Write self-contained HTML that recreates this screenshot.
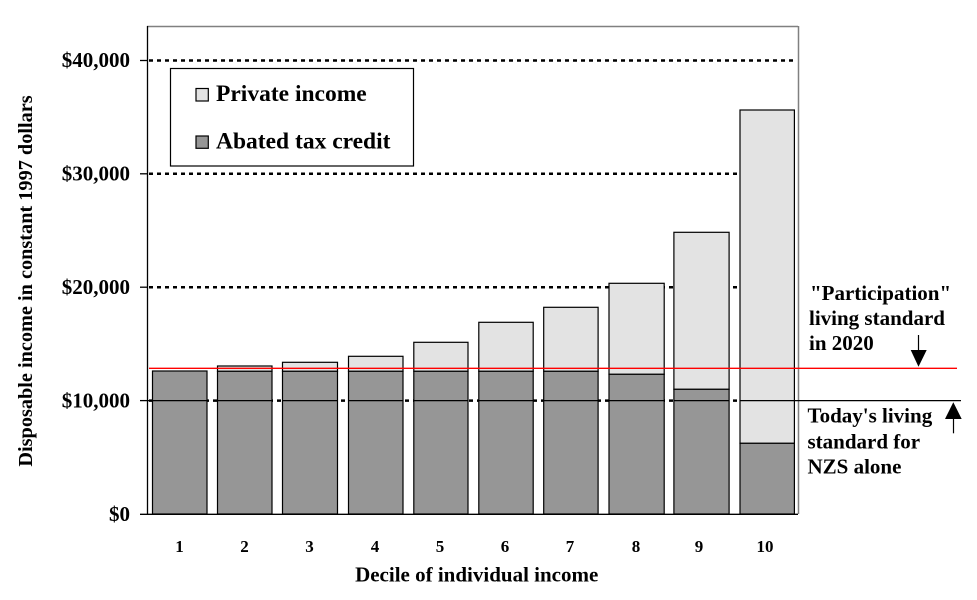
<!DOCTYPE html>
<html>
<head>
<meta charset="utf-8">
<style>
html,body{margin:0;padding:0;background:#fff;}
svg{display:block;}
text{font-family:"Liberation Serif","Times New Roman",serif;font-weight:bold;fill:#000;}
</style>
</head>
<body>
<svg width="977" height="600" viewBox="0 0 977 600" xmlns="http://www.w3.org/2000/svg">
  <rect x="0" y="0" width="977" height="600" fill="#fff"/>

  <!-- plot frame (gray top/right) -->
  <line x1="147" y1="26.5" x2="798" y2="26.5" stroke="#808080" stroke-width="1.5"/>
  <line x1="798.5" y1="26" x2="798.5" y2="514" stroke="#808080" stroke-width="1.5"/>

  <!-- dotted gridlines -->
  <g stroke="#000" stroke-width="2.5" stroke-dasharray="4 4">
    <line x1="149" y1="60.5" x2="797" y2="60.5"/>
    <line x1="149" y1="173.8" x2="797" y2="173.8"/>
    <line x1="149" y1="287.2" x2="797" y2="287.2"/>
    <line x1="149" y1="400.6" x2="797" y2="400.6"/>
  </g>

  <!-- bars -->
  <g stroke="#000" stroke-width="1.2">
    <!-- bar 1 -->
    <rect x="152.5" y="371" width="54.5" height="143" fill="#969696"/>
    <!-- bar 2 -->
    <rect x="217.5" y="366" width="54.5" height="5.3" fill="#e3e3e3"/>
    <rect x="217.5" y="371.3" width="54.5" height="142.7" fill="#969696"/>
    <!-- bar 3 -->
    <rect x="282.5" y="362.3" width="55" height="9" fill="#e3e3e3"/>
    <rect x="282.5" y="371.3" width="55" height="142.7" fill="#969696"/>
    <!-- bar 4 -->
    <rect x="348.5" y="356.3" width="54.5" height="15" fill="#e3e3e3"/>
    <rect x="348.5" y="371.3" width="54.5" height="142.7" fill="#969696"/>
    <!-- bar 5 -->
    <rect x="413.8" y="342.3" width="54.2" height="29" fill="#e3e3e3"/>
    <rect x="413.8" y="371.3" width="54.2" height="142.7" fill="#969696"/>
    <!-- bar 6 -->
    <rect x="478.8" y="322.3" width="54.4" height="49" fill="#e3e3e3"/>
    <rect x="478.8" y="371.3" width="54.4" height="142.7" fill="#969696"/>
    <!-- bar 7 -->
    <rect x="543.7" y="307.3" width="54.4" height="64" fill="#e3e3e3"/>
    <rect x="543.7" y="371.3" width="54.4" height="142.7" fill="#969696"/>
    <!-- bar 8 -->
    <rect x="609" y="283.3" width="55.2" height="91" fill="#e3e3e3"/>
    <rect x="609" y="374.3" width="55.2" height="139.7" fill="#969696"/>
    <!-- bar 9 -->
    <rect x="673.9" y="232.3" width="55.2" height="157" fill="#e3e3e3"/>
    <rect x="673.9" y="389.3" width="55.2" height="124.7" fill="#969696"/>
    <!-- bar 10 -->
    <rect x="740" y="110" width="54.4" height="333.3" fill="#e3e3e3"/>
    <rect x="740" y="443.3" width="54.4" height="70.7" fill="#969696"/>
  </g>

  <!-- solid black "today's" line (over bars and to the right) -->
  <g stroke="#000" stroke-width="1.2">
    <line x1="147" y1="400.6" x2="207" y2="400.6"/>
    <line x1="217.5" y1="400.6" x2="272" y2="400.6"/>
    <line x1="282.5" y1="400.6" x2="337.5" y2="400.6"/>
    <line x1="348.5" y1="400.6" x2="403" y2="400.6"/>
    <line x1="413.8" y1="400.6" x2="468" y2="400.6"/>
    <line x1="478.8" y1="400.6" x2="533.2" y2="400.6"/>
    <line x1="543.7" y1="400.6" x2="598.1" y2="400.6"/>
    <line x1="609" y1="400.6" x2="664.2" y2="400.6"/>
    <line x1="673.9" y1="400.6" x2="729.1" y2="400.6"/>
    <line x1="740" y1="400.6" x2="961" y2="400.6"/>
  </g>

  <!-- red participation line -->
  <line x1="149" y1="368.3" x2="957" y2="368.3" stroke="#ff0000" stroke-width="1.3"/>

  <!-- axes -->
  <line x1="147.5" y1="26" x2="147.5" y2="514.5" stroke="#000" stroke-width="1.3"/>
  <line x1="140" y1="514.3" x2="798" y2="514.3" stroke="#000" stroke-width="1.3"/>
  <g stroke="#000" stroke-width="1.3">
    <line x1="140" y1="60.5" x2="147" y2="60.5"/>
    <line x1="140" y1="173.8" x2="147" y2="173.8"/>
    <line x1="140" y1="287.2" x2="147" y2="287.2"/>
    <line x1="140" y1="400.6" x2="147" y2="400.6"/>
  </g>

  <!-- y tick labels -->
  <g font-size="21" text-anchor="end">
    <text x="130" y="67">$40,000</text>
    <text x="130" y="180.5">$30,000</text>
    <text x="130" y="294">$20,000</text>
    <text x="130" y="407.3">$10,000</text>
    <text x="130" y="521">$0</text>
  </g>

  <!-- x tick labels -->
  <g font-size="17" text-anchor="middle">
    <text x="179.5" y="552">1</text>
    <text x="244.5" y="552">2</text>
    <text x="309.5" y="552">3</text>
    <text x="375" y="552">4</text>
    <text x="440" y="552">5</text>
    <text x="505" y="552">6</text>
    <text x="570" y="552">7</text>
    <text x="636" y="552">8</text>
    <text x="699" y="552">9</text>
    <text x="765" y="552">10</text>
  </g>

  <!-- axis titles -->
  <text x="476.7" y="581.5" font-size="21" text-anchor="middle">Decile of individual income</text>
  <text transform="translate(32,281) rotate(-90)" x="0" y="0" font-size="20.3" text-anchor="middle">Disposable income in constant 1997 dollars</text>

  <!-- legend -->
  <rect x="170.5" y="68.5" width="243" height="97.5" fill="#fff" stroke="#000" stroke-width="1.2"/>
  <rect x="196" y="88.5" width="12.3" height="12.5" fill="#e3e3e3" stroke="#000" stroke-width="1.2"/>
  <rect x="196" y="136" width="12.3" height="12.3" fill="#969696" stroke="#000" stroke-width="1.2"/>
  <text x="216" y="101" font-size="23.5">Private income</text>
  <text x="216" y="148.3" font-size="23.5">Abated tax credit</text>

  <!-- annotations -->
  <g font-size="21">
    <text x="810" y="300">"Participation"</text>
    <text x="809" y="325">living standard</text>
    <text x="809" y="350">in 2020</text>
    <text x="807.5" y="422.7">Today's living</text>
    <text x="807.5" y="448.3">standard for</text>
    <text x="807.5" y="473.3">NZS alone</text>
  </g>

  <!-- arrows -->
  <line x1="918.5" y1="335" x2="918.5" y2="351" stroke="#000" stroke-width="1.2"/>
  <polygon points="910.7,350 926.7,350 918.5,366.7" fill="#000"/>
  <polygon points="945,419 961.7,419 953.3,402.3" fill="#000"/>
  <line x1="953.5" y1="418" x2="953.5" y2="433.3" stroke="#000" stroke-width="1.2"/>
</svg>
</body>
</html>
